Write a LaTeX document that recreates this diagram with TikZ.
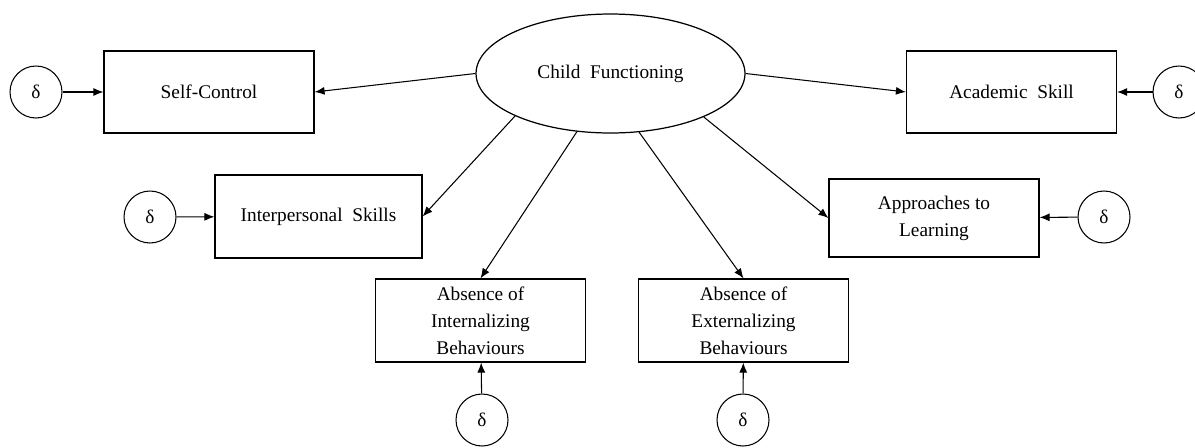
\documentclass[tikz,border=0pt]{standalone}
\usepackage{fontspec}
\setmainfont{Liberation Serif}
\usetikzlibrary{arrows.meta,shapes.geometric}
\begin{document}
\begin{tikzpicture}[x=0.02cm,y=-0.02cm,
  font=\fontsize{11}{15.4}\selectfont,
  obs/.style={draw,line width=0.7pt,minimum width=4.2cm,minimum height=1.64cm,align=center,inner sep=2pt},
  latent/.style={draw,ellipse,line width=0.7pt,minimum width=5.38cm,minimum height=2.38cm,inner sep=0pt},
  err/.style={draw,circle,line width=0.6pt,minimum size=1.04cm,inner sep=0pt},
  path/.style={line width=0.6pt,-{Latex[length=0.2cm,width=0.16cm]}}]
\useasboundingbox (0,0) rectangle (1195,447);

% latent factor
\node[latent] (cf) at (610.5,73.5) {Child\ \ Functioning};

% indicators
\node[obs] (sc) at (209,92) {Self-Control};
\node[obs] (ac) at (1011.5,92) {Academic\ \ Skill};
\node[obs,minimum width=4.14cm,minimum height=1.66cm] (ip) at (318.5,216.5) {Interpersonal\ \ Skills};
\node[obs,minimum height=1.56cm] (al) at (934,218) {Approaches to\\Learning};
\node[obs,minimum height=1.66cm] (ai) at (480.5,320.5) {Absence of\\Internalizing\\Behaviours};
\node[obs,minimum height=1.66cm] (ae) at (743.5,320.5) {Absence of\\Externalizing\\Behaviours};

% error terms
\node[err] (d1) at (36,92) {δ};
\node[err] (d2) at (1179,92) {δ};
\node[err] (d3) at (150,217) {δ};
\node[err] (d6) at (1104,217) {δ};
\node[err] (d4) at (482,420) {δ};
\node[err] (d5) at (743,420) {δ};

% loadings
\draw[path] (cf.west) -- (sc.east);
\draw[path] (cf.east) -- (ac.west);
\draw[path] (cf.204) -- (ip.east);
\draw[path] (cf.240.5) -- (ai.north);
\draw[path] (cf.296.8) -- (ae.north);
\draw[path] (cf.335.5) -- (al.west);

% residuals
\draw[path] (d1) -- (sc);
\draw[path] (d2) -- (ac);
\draw[path] (d3) -- (ip);
\draw[path] (d6) -- (al);
\draw[path] (d4) -- (ai);
\draw[path] (d5) -- (ae);
\end{tikzpicture}
\end{document}
